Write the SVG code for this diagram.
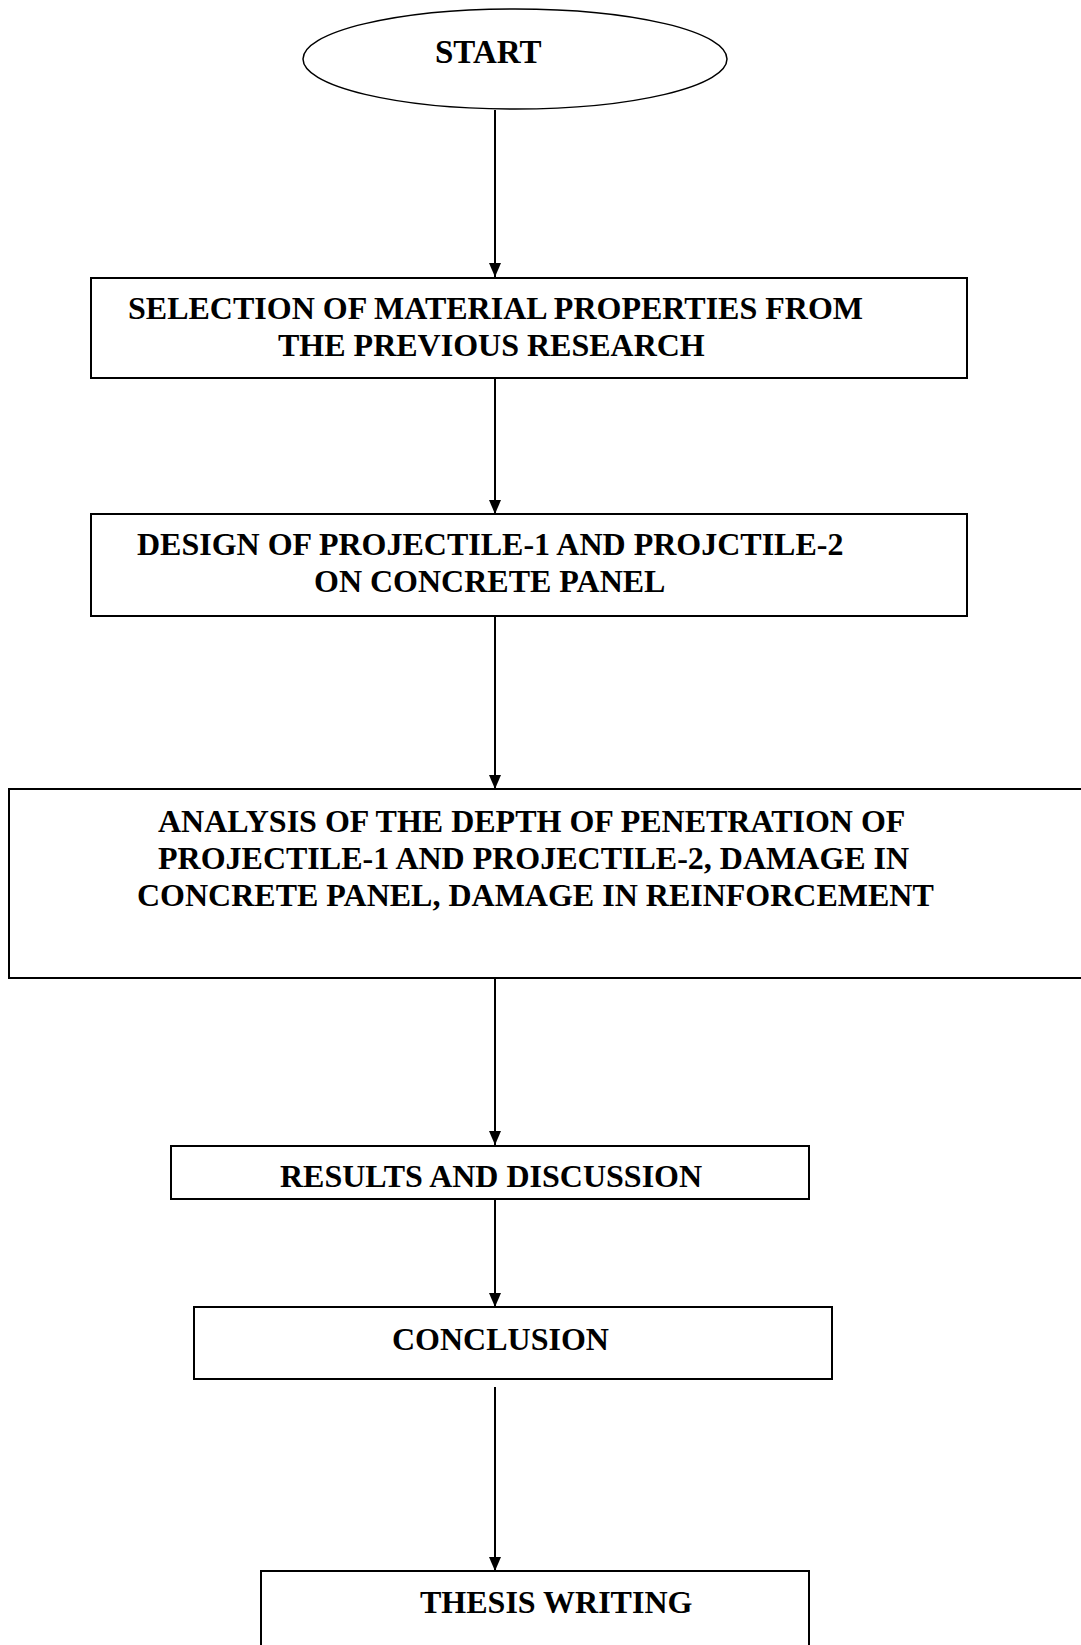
<svg xmlns="http://www.w3.org/2000/svg" width="1081" height="1645" viewBox="0 0 1081 1645">
<style>
  .box { fill: #ffffff; stroke: #000000; stroke-width: 2; }
  .lbl { font-family: "Liberation Serif", "Times New Roman", serif; font-weight: bold; font-size: 32px; fill: #000000; }
  .conn { stroke: #000000; stroke-width: 2; fill: none; }
</style>
<defs>
  <marker id="arr" markerUnits="userSpaceOnUse" viewBox="0 0 14 12" refX="14" refY="6" markerWidth="14" markerHeight="12" orient="auto">
    <path d="M0,0 L14,6 L0,12 z" fill="#000000"/>
  </marker>
</defs>
<rect x="0" y="0" width="1081" height="1645" fill="#ffffff"/>

<g id="connectors">
  <line class="conn" x1="495" y1="110" x2="495" y2="277" marker-end="url(#arr)"/>
  <line class="conn" x1="495" y1="378" x2="495" y2="514" marker-end="url(#arr)"/>
  <line class="conn" x1="495" y1="616" x2="495" y2="789" marker-end="url(#arr)"/>
  <line class="conn" x1="495" y1="978" x2="495" y2="1145" marker-end="url(#arr)"/>
  <line class="conn" x1="495" y1="1199" x2="495" y2="1307" marker-end="url(#arr)"/>
  <line class="conn" x1="495" y1="1387" x2="495" y2="1571" marker-end="url(#arr)"/>
</g>

<g id="start">
  <ellipse cx="515" cy="59" rx="212" ry="50" fill="#ffffff" stroke="#000000" stroke-width="1.5"/>
  <text class="lbl" x="435" y="63" style="font-size:33px">START</text>
</g>

<g id="selection">
  <rect class="box" x="91" y="278" width="876" height="100"/>
  <text class="lbl" x="128" y="319">SELECTION OF MATERIAL PROPERTIES FROM</text>
  <text class="lbl" x="278" y="356">THE PREVIOUS RESEARCH</text>
</g>

<g id="design">
  <rect class="box" x="91" y="514" width="876" height="102"/>
  <text class="lbl" x="137" y="555">DESIGN OF PROJECTILE-1 AND PROJCTILE-2</text>
  <text class="lbl" x="314" y="592">ON CONCRETE PANEL</text>
</g>

<g id="analysis">
  <rect class="box" x="9" y="789" width="1090" height="189"/>
  <text class="lbl" x="158" y="832">ANALYSIS OF THE DEPTH OF PENETRATION OF</text>
  <text class="lbl" x="158" y="869">PROJECTILE-1 AND PROJECTILE-2, DAMAGE IN</text>
  <text class="lbl" x="137" y="906">CONCRETE PANEL, DAMAGE IN REINFORCEMENT</text>
</g>

<g id="results">
  <rect class="box" x="171" y="1146" width="638" height="53"/>
  <text class="lbl" x="280" y="1187">RESULTS AND DISCUSSION</text>
</g>

<g id="conclusion">
  <rect class="box" x="194" y="1307" width="638" height="72"/>
  <text class="lbl" x="392" y="1350">CONCLUSION</text>
</g>

<g id="thesis">
  <rect class="box" x="261" y="1571" width="548" height="100"/>
  <text class="lbl" x="420" y="1613">THESIS WRITING</text>
</g>
</svg>
